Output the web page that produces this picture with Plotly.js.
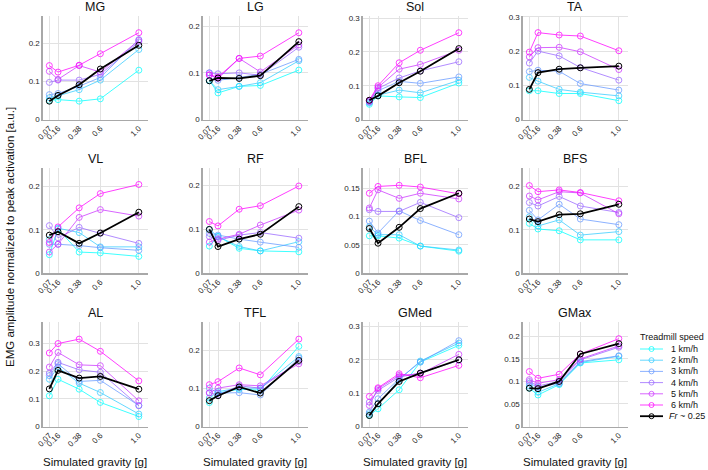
<!DOCTYPE html>
<html>
<head>
<meta charset="utf-8">
<script src="https://cdn.plot.ly/plotly-3.0.1.min.js"></script>
<style>html,body{margin:0;padding:0;background:#fff;}#chart{width:708px;height:470px;}</style>
</head>
<body>
<div id="chart"></div>
<script>
// ---------- data ----------
const gravity = [0.07, 0.16, 0.38, 0.6, 1.0];
const gravityLabels = ['0.07', '0.16', '0.38', '0.6', '1.0'];
const muscles = ['MG', 'LG', 'Sol', 'TA', 'VL', 'RF', 'BFL', 'BFS', 'AL', 'TFL', 'GMed', 'GMax'];
const speeds = ['1 km/h', '2 km/h', '3 km/h', '4 km/h', '5 km/h', '6 km/h'];
const frLabel = '<i>Fr</i> ~ 0.25';
const legendTitle = 'Treadmill speed';
const xTitle = 'Simulated gravity [g]';
const yTitle = 'EMG amplitude normalized to peak activation [a.u.]';

// rows: 1..6 km/h, then Fr ~ 0.25
const MG = [
  [0.050, 0.052, 0.048, 0.054, 0.129],
  [0.057, 0.062, 0.078, 0.103, 0.183],
  [0.065, 0.068, 0.087, 0.110, 0.209],
  [0.097, 0.103, 0.103, 0.118, 0.203],
  [0.126, 0.105, 0.141, 0.124, 0.207],
  [0.141, 0.124, 0.142, 0.172, 0.227],
  [0.048, 0.063, 0.091, 0.132, 0.194]
];
const LG = [
  [0.084, 0.057, 0.071, 0.073, 0.106],
  [0.083, 0.064, 0.071, 0.079, 0.126],
  [0.100, 0.084, 0.090, 0.097, 0.129],
  [0.100, 0.098, 0.100, 0.095, 0.155],
  [0.095, 0.088, 0.131, 0.102, 0.160],
  [0.096, 0.091, 0.131, 0.136, 0.186],
  [0.083, 0.089, 0.088, 0.094, 0.167]
];
const Sol = [
  [0.045, 0.070, 0.067, 0.065, 0.108],
  [0.049, 0.072, 0.087, 0.079, 0.116],
  [0.052, 0.085, 0.113, 0.107, 0.126],
  [0.052, 0.092, 0.123, 0.144, 0.171],
  [0.055, 0.095, 0.149, 0.163, 0.205],
  [0.057, 0.100, 0.168, 0.205, 0.257],
  [0.057, 0.070, 0.109, 0.143, 0.210]
];
const TA = [
  [0.084, 0.084, 0.076, 0.076, 0.055],
  [0.123, 0.112, 0.088, 0.080, 0.069],
  [0.140, 0.144, 0.141, 0.105, 0.086],
  [0.165, 0.200, 0.186, 0.152, 0.115],
  [0.183, 0.210, 0.211, 0.198, 0.146],
  [0.197, 0.254, 0.247, 0.244, 0.201],
  [0.088, 0.137, 0.147, 0.151, 0.156]
];
const VL = [
  [0.043, 0.102, 0.049, 0.047, 0.039],
  [0.078, 0.104, 0.094, 0.061, 0.061],
  [0.067, 0.067, 0.064, 0.059, 0.053],
  [0.110, 0.082, 0.106, 0.092, 0.069],
  [0.049, 0.067, 0.129, 0.147, 0.132],
  [0.071, 0.107, 0.151, 0.184, 0.205],
  [0.088, 0.096, 0.069, 0.093, 0.141]
];
const RF = [
  [0.062, 0.084, 0.057, 0.051, 0.049],
  [0.100, 0.084, 0.061, 0.051, 0.072],
  [0.091, 0.087, 0.078, 0.071, 0.059],
  [0.084, 0.075, 0.087, 0.093, 0.080],
  [0.071, 0.078, 0.089, 0.110, 0.144],
  [0.118, 0.108, 0.146, 0.154, 0.199],
  [0.100, 0.061, 0.078, 0.089, 0.152]
];
const BFL = [
  [0.066, 0.066, 0.062, 0.048, 0.039],
  [0.082, 0.068, 0.068, 0.048, 0.041],
  [0.092, 0.071, 0.110, 0.093, 0.068],
  [0.112, 0.109, 0.109, 0.125, 0.098],
  [0.115, 0.147, 0.132, 0.141, 0.131],
  [0.141, 0.153, 0.155, 0.152, 0.140],
  [0.079, 0.053, 0.081, 0.114, 0.141]
];
const BFS = [
  [0.115, 0.102, 0.098, 0.077, 0.077],
  [0.130, 0.109, 0.123, 0.088, 0.096],
  [0.145, 0.123, 0.159, 0.125, 0.112],
  [0.163, 0.155, 0.177, 0.155, 0.140],
  [0.178, 0.169, 0.188, 0.185, 0.137],
  [0.202, 0.188, 0.192, 0.186, 0.167],
  [0.125, 0.119, 0.135, 0.137, 0.159]
];
const AL = [
  [0.111, 0.171, 0.135, 0.087, 0.036],
  [0.171, 0.215, 0.157, 0.123, 0.045],
  [0.184, 0.227, 0.163, 0.167, 0.076],
  [0.193, 0.232, 0.205, 0.196, 0.075],
  [0.215, 0.268, 0.223, 0.220, 0.093],
  [0.266, 0.300, 0.316, 0.272, 0.165],
  [0.136, 0.203, 0.175, 0.181, 0.135]
];
const TFL = [
  [0.063, 0.088, 0.098, 0.096, 0.211],
  [0.075, 0.092, 0.101, 0.101, 0.184],
  [0.101, 0.088, 0.089, 0.083, 0.180],
  [0.089, 0.083, 0.107, 0.101, 0.171],
  [0.088, 0.101, 0.110, 0.107, 0.165],
  [0.110, 0.118, 0.154, 0.136, 0.230],
  [0.068, 0.081, 0.104, 0.088, 0.174]
];
const GMed = [
  [0.033, 0.053, 0.110, 0.193, 0.243],
  [0.038, 0.068, 0.140, 0.196, 0.250],
  [0.043, 0.083, 0.143, 0.193, 0.257],
  [0.073, 0.108, 0.148, 0.160, 0.198],
  [0.063, 0.113, 0.153, 0.158, 0.216],
  [0.090, 0.116, 0.158, 0.146, 0.183],
  [0.033, 0.068, 0.135, 0.160, 0.200]
];
const GMax = [
  [0.085, 0.070, 0.093, 0.141, 0.148],
  [0.090, 0.076, 0.095, 0.142, 0.156],
  [0.096, 0.087, 0.096, 0.144, 0.157],
  [0.100, 0.090, 0.100, 0.148, 0.176],
  [0.104, 0.096, 0.104, 0.150, 0.179],
  [0.122, 0.107, 0.116, 0.161, 0.195],
  [0.085, 0.084, 0.100, 0.161, 0.184]
];

// ---------- layout / style (not data) ----------
const panels = [MG, LG, Sol, TA, VL, RF, BFL, BFS, AL, TFL, GMed, GMax];
const yTop = [0.272, 0.223, 0.308, 0.304, 0.243, 0.240, 0.1855, 0.2425, 0.378, 0.275, 0.313, 0.232];
const yStep = [0.1, 0.1, 0.1, 0.1, 0.1, 0.1, 0.05, 0.1, 0.1, 0.1, 0.1, 0.05];
const colors = ['rgb(0,255,255)', 'rgb(51,204,255)', 'rgb(102,153,255)', 'rgb(153,102,255)', 'rgb(204,51,255)', 'rgb(255,0,255)'];
const W = 708, H = 470;
const colPx = [[42.6, 147.5], [202.6, 307.5], [362.6, 467.5], [522.6, 627.5]];
const rowPx = [[15.5, 119.5], [168, 273.3], [322, 426.5]];
const FONT = 'Liberation Sans, Arial, Helvetica, sans-serif';
const px = v => v / W;
const py = v => 1 - v / H;

const traces = [];
const layout = {
  width: W, height: H,
  margin: {l: 0, r: 0, t: 0, b: 0},
  paper_bgcolor: '#fff', plot_bgcolor: 'rgba(0,0,0,0)',
  showlegend: false,
  font: {family: FONT, size: 8, color: '#262626'},
  annotations: [], shapes: []
};

panels.forEach((data, i) => {
  const r = Math.floor(i / 4), c = i % 4;
  const xa = i === 0 ? 'x' : 'x' + (i + 1);
  const ya = i === 0 ? 'y' : 'y' + (i + 1);
  const xk = i === 0 ? 'xaxis' : 'xaxis' + (i + 1);
  const yk = i === 0 ? 'yaxis' : 'yaxis' + (i + 1);
  layout[xk] = {
    domain: [px(colPx[c][0]), px(colPx[c][1])],
    anchor: ya, range: [0, 1.09],
    tickmode: 'array', tickvals: gravity, ticktext: gravityLabels,
    tickangle: -45, tickfont: {size: 8, color: '#262626'},
    showgrid: true, gridcolor: '#e2e2e2', gridwidth: 1,
    showline: true, linecolor: '#a8a8a8', linewidth: 1.2,
    zeroline: false, ticks: '', fixedrange: true
  };
  const tv = [];
  for (let t = 0; t <= yTop[i] + 1e-9; t += yStep[i]) tv.push(+t.toFixed(3));
  layout[yk] = {
    domain: [py(rowPx[r][1]), py(rowPx[r][0])],
    anchor: xa, range: [0, yTop[i]],
    tickmode: 'array', tickvals: tv, ticktext: tv.map(v => String(v)),
    tickfont: {size: 8, color: '#262626'},
    showgrid: true, gridcolor: '#e2e2e2', gridwidth: 1,
    showline: true, linecolor: '#a8a8a8', linewidth: 1.2,
    zeroline: false, ticks: '', fixedrange: true
  };
  data.forEach((vals, s) => {
    const isFr = s === 6;
    traces.push({
      type: 'scatter', mode: 'lines+markers',
      x: gravity, y: vals, xaxis: xa, yaxis: ya,
      name: isFr ? frLabel : speeds[s],
      line: {color: isFr ? '#000' : colors[s], width: isFr ? 1.8 : 1},
      marker: {symbol: 'circle-open', size: 6, color: isFr ? '#000' : colors[s], line: {width: 1}},
      opacity: isFr ? 1 : 0.75,
      hoverinfo: 'skip'
    });
  });
  // panel title
  layout.annotations.push({
    xref: 'paper', yref: 'paper',
    x: px((colPx[c][0] + colPx[c][1]) / 2), y: py(rowPx[r][0]),
    xanchor: 'center', yanchor: 'bottom', showarrow: false,
    text: muscles[i], font: {size: 12.5, color: '#111', family: FONT}
  });
  if (r === 2) {
    layout.annotations.push({
      xref: 'paper', yref: 'paper',
      x: px((colPx[c][0] + colPx[c][1]) / 2), y: py(462),
      xanchor: 'center', yanchor: 'middle', showarrow: false,
      text: xTitle, font: {size: 11.5, color: '#111', family: FONT}
    });
  }
});

// global y title
layout.annotations.push({
  xref: 'paper', yref: 'paper', x: px(10), y: py(237),
  xanchor: 'center', yanchor: 'middle', showarrow: false, textangle: -90,
  text: yTitle, font: {size: 11.5, color: '#111', family: FONT}
});

// legend (drawn as layout decorations)
layout.annotations.push({
  xref: 'paper', yref: 'paper', x: px(638), y: py(337),
  xanchor: 'left', yanchor: 'middle', showarrow: false,
  text: legendTitle, font: {size: 9, color: '#111', family: FONT}
});
const legendNames = speeds.concat([frLabel]);
legendNames.forEach((nm, k) => {
  const yy = 349 + k * 11.2;
  const isFr = k === 6;
  const col = isFr ? '#000' : colors[k];
  layout.shapes.push({
    type: 'line', xref: 'paper', yref: 'paper',
    x0: px(640), x1: px(663), y0: py(yy), y1: py(yy),
    line: {color: col, width: isFr ? 1.8 : 1}, opacity: isFr ? 1 : 0.75
  });
  layout.shapes.push({
    type: 'circle', xref: 'paper', yref: 'paper',
    xsizemode: 'pixel', ysizemode: 'pixel',
    xanchor: px(651.5), yanchor: py(yy),
    x0: -2.5, x1: 2.5, y0: -2.5, y1: 2.5,
    line: {color: col, width: 1}, opacity: isFr ? 1 : 0.75
  });
  layout.annotations.push({
    xref: 'paper', yref: 'paper', x: px(isFr ? 666.5 : 669), y: py(yy),
    xanchor: 'left', yanchor: 'middle', showarrow: false,
    text: nm, font: {size: 9, color: '#111', family: FONT}
  });
});

Plotly.newPlot('chart', traces, layout, {staticPlot: true, displayModeBar: false});
</script>
</body>
</html>
